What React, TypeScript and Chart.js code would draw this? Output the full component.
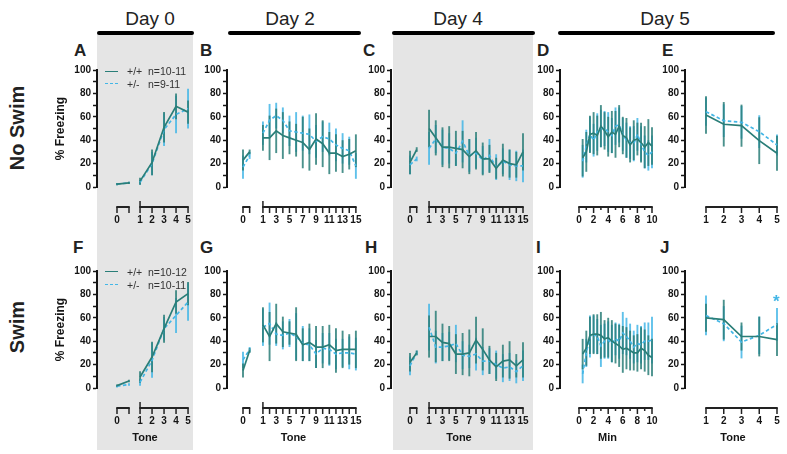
import React, { useEffect, useRef } from 'react';
import { Chart, registerables } from 'chart.js';
Chart.register(...registerables);

const FONT = '"Liberation Sans", Arial, Helvetica, sans-serif';
const WT = '#2a7e78';
const HET = '#43b6e6';
const WT_BAR = 'rgba(42,126,120,0.85)';
const HET_BAR = 'rgba(67,182,230,0.85)';
const INK = '#151515';

// ---------- x categories ----------
const tones5 = [1, 2, 3, 4, 5];
const tones15 = [1, 2, 3, 4, 5, 6, 7, 8, 9, 10, 11, 12, 13, 14, 15];
const tones15Labelled = [1, 3, 5, 7, 9, 11, 13, 15];
const minutes = [0.5, 1, 1.5, 2, 2.5, 3, 3.5, 4, 4.5, 5, 5.5, 6, 6.5, 7, 7.5, 8, 8.5, 9, 9.5, 10];
const minuteLabels = [0, 2, 4, 6, 8, 10];
const minuteTicks = [0, 1, 2, 3, 4, 5, 6, 7, 8, 9, 10];
const baselinePts = [0, 1];

// ---------- A: No Swim, Day 0 ----------
const aBaseWT = [2.5, 3.5];
const aBaseWTsem = [1, 1];
const aBaseHet = [2.5, 3.5];
const aBaseHetSem = [1, 1];
const aWT = [5, 21, 51, 69, 64];
const aWTsem = [3, 11, 13, 11, 10];
const aHet = [4, 20, 49, 62, 67];
const aHetSem = [2, 10, 14, 16, 17];

// ---------- B: No Swim, Day 2 ----------
const bBaseWT = [23, 30];
const bBaseWTsem = [9, 2];
const bBaseHet = [17, 27];
const bBaseHetSem = [10, 3];
const bWT = [42, 42, 48, 44, 42, 40, 38, 32, 41, 37, 29, 29, 26, 28, 31];
const bWTsem = [11, 19, 19, 20, 14, 14, 22, 18, 22, 20, 18, 16, 14, 13, 14];
const bHet = [46, 57, 61, 57, 48, 47, 46, 45, 39, 43, 41, 36, 33, 31, 18];
const bHetSem = [10, 14, 11, 11, 13, 17, 15, 17, 14, 13, 14, 14, 13, 12, 11];

// ---------- C: No Swim, Day 4 ----------
const cBaseWT = [21, 32];
const cBaseWTsem = [10, 2];
const cBaseHet = [19, 24];
const cBaseHetSem = [8, 2];
const cWT = [50, 42, 34, 34, 33, 32, 26, 31, 24, 24, 16, 23, 20, 19, 30];
const cWTsem = [16, 15, 17, 18, 15, 16, 15, 16, 14, 12, 9, 14, 12, 11, 16];
const cHet = [33, 41, 34, 33, 29, 39, 27, 29, 23, 27, 17, 22, 19, 18, 18];
const cHetSem = [14, 12, 15, 13, 11, 18, 14, 13, 12, 14, 11, 11, 13, 13, 14];

// ---------- D: No Swim, Day 5 (min) ----------
const dWT = [25, 30, 45, 46, 44, 52, 48, 43, 47, 45, 52, 44, 42, 36, 40, 41, 38, 34, 38, 35];
const dWTsem = [16, 17, 16, 18, 17, 18, 16, 17, 18, 20, 18, 16, 17, 15, 17, 14, 17, 18, 20, 16];
const dHet = [22, 35, 45, 40, 47, 50, 50, 47, 44, 52, 53, 45, 40, 38, 37, 45, 37, 30, 27, 30];
const dHetSem = [14, 14, 15, 14, 16, 16, 15, 17, 15, 16, 15, 14, 15, 14, 15, 14, 15, 14, 13, 14];

// ---------- E: No Swim, Day 5 (tone) ----------
const eWT = [61.5, 53.6, 52.4, 39.6, 28.8];
const eWTsem = [16, 19, 18, 20, 15];
const eHet = [64.4, 56.7, 55.3, 47.3, 35.9];
const eHetSem = [12, 14, 14, 14, 9];

// ---------- F: Swim, Day 0 ----------
const fBaseWT = [2, 6];
const fBaseWTsem = [1, 1];
const fBaseHet = [1.5, 3];
const fBaseHetSem = [1, 1];
const fWT = [9.4, 26.5, 50.7, 73.5, 80.7];
const fWTsem = [5, 13, 12, 10, 10];
const fHet = [5, 23.7, 50.7, 62, 73.5];
const fHetSem = [3, 15, 10, 15, 16];

// ---------- G: Swim, Day 2 ----------
const gBaseWT = [15, 32];
const gBaseWTsem = [6, 2];
const gBaseHet = [24, 33];
const gBaseHetSem = [7, 2];
const gWT = [54, 44, 55, 48, 47, 46, 37, 39, 35, 35, 37, 32, 33, 33, 33];
const gWTsem = [15, 21, 17, 13, 10, 23, 14, 16, 18, 18, 17, 19, 16, 13, 16];
const gHet = [52, 55, 46, 45, 47, 44, 38, 37, 29, 34, 33, 29, 30, 30, 29];
const gHetSem = [16, 18, 10, 12, 12, 20, 15, 14, 12, 13, 14, 13, 12, 14, 14];

// ---------- H: Swim, Day 4 ----------
const hBaseWT = [22, 30];
const hBaseWTsem = [8, 2];
const hBaseHet = [19, 30];
const hBaseHetSem = [8, 2];
const hWT = [44, 44, 39, 38, 29, 29, 30, 41, 33, 24, 18, 23, 24, 19, 24];
const hWTsem = [18, 22, 16, 15, 17, 18, 20, 20, 18, 12, 12, 14, 16, 10, 15];
const hHet = [52, 35, 35, 36, 38, 28, 27, 29, 23, 23, 20, 17, 18, 14, 19];
const hHetSem = [20, 14, 12, 12, 16, 12, 10, 14, 12, 11, 12, 12, 12, 10, 13];

// ---------- I: Swim, Day 5 (min) ----------
const iWT = [29, 34, 45, 46, 46, 45, 42, 43, 40, 38, 36, 33, 34, 32, 30, 30, 34, 32, 28, 26];
const iWTsem = [13, 15, 16, 17, 17, 20, 16, 17, 18, 17, 18, 20, 18, 17, 15, 16, 18, 18, 17, 16];
const iHet = [12, 30, 44, 46, 44, 36, 40, 41, 38, 42, 40, 47, 44, 40, 35, 38, 37, 40, 40, 41];
const iHetSem = [8, 12, 18, 16, 15, 18, 15, 16, 16, 14, 15, 18, 16, 15, 14, 16, 16, 16, 16, 20];

// ---------- J: Swim, Day 5 (tone) ----------
const jWT = [60, 58.4, 44, 44, 41.3];
const jWTsem = [12, 17, 12, 17, 14];
const jHet = [62, 55, 39.3, 45, 54.4];
const jHetSem = [17, 15, 14, 16, 14];

// ---------- types & builders ----------
type Series = { x: number[]; y: number[]; sem: number[]; het: boolean };
type Seg = { from: number; to: number; major: number[]; minor?: number[]; tallStart?: boolean };
type PanelCfg = {
  key: string;
  row: number;
  axisX: number;
  originPx: number;
  ppu: number;
  rightPx: number;
  yTitle?: boolean;
  xTitle?: string;
  series: Series[];
  tickPos: number[];
  tickLabels: string[];
  segs: Seg[];
};

const shift = (arr: number[], off: number) => arr.map((v) => v + off);

type DayGeo = { axisX: number; originPx: number; ppu: number; rightPx: number; off: number; many: boolean };
const GEO_D0: DayGeo = { axisX: 97, originPx: 117, ppu: 12, rightPx: 193, off: 0.92, many: false };
const GEO_D2: DayGeo = { axisX: 227, originPx: 243, ppu: 6.64, rightPx: 360, off: 2, many: true };
const GEO_D4: DayGeo = { axisX: 391, originPx: 410, ppu: 6.71, rightPx: 527, off: 1.84, many: true };

function dayPanel(
  key: string, row: number, g: DayGeo,
  baseWT: number[], baseWTsem: number[], baseHet: number[], baseHetSem: number[],
  wt: number[], wtSem: number[], het: number[], hetSem: number[],
  yTitle: boolean, xTitle?: string
): PanelCfg {
  const tones = g.many ? tones15 : tones5;
  const labelled = g.many ? tones15Labelled : tones5;
  const tx = shift(tones, g.off);
  return {
    key, row, axisX: g.axisX, originPx: g.originPx, ppu: g.ppu, rightPx: g.rightPx, yTitle, xTitle,
    series: [
      { x: baselinePts, y: baseWT, sem: baseWTsem, het: false },
      { x: tx, y: wt, sem: wtSem, het: false },
      { x: baselinePts, y: baseHet, sem: baseHetSem, het: true },
      { x: tx, y: het, sem: hetSem, het: true },
    ],
    tickPos: [0, ...shift(labelled, g.off)],
    tickLabels: ['0', ...labelled.map(String)],
    segs: [
      { from: 0, to: 1, major: [0, 1] },
      { from: tx[0], to: tx[tx.length - 1], major: tx, tallStart: true },
    ],
  };
}

function minPanel(key: string, row: number, wt: number[], wtSem: number[], het: number[], hetSem: number[], xTitle?: string): PanelCfg {
  return {
    key, row, axisX: 560, originPx: 579, ppu: 7.3, rightPx: 655, xTitle,
    series: [
      { x: minutes, y: wt, sem: wtSem, het: false },
      { x: minutes, y: het, sem: hetSem, het: true },
    ],
    tickPos: minuteLabels,
    tickLabels: minuteLabels.map(String),
    segs: [{ from: 0, to: 10, major: minuteLabels, minor: minuteTicks.filter((m) => m % 2 === 1), tallStart: false }],
  };
}

function tonePanel(key: string, row: number, wt: number[], wtSem: number[], het: number[], hetSem: number[], xTitle?: string): PanelCfg {
  return {
    key, row, axisX: 685, originPx: 688.25, ppu: 17.75, rightPx: 781, xTitle,
    series: [
      { x: tones5, y: wt, sem: wtSem, het: false },
      { x: tones5, y: het, sem: hetSem, het: true },
    ],
    tickPos: tones5,
    tickLabels: tones5.map(String),
    segs: [{ from: 1, to: 5, major: tones5 }],
  };
}

const PANELS: PanelCfg[] = [
  dayPanel('A', 0, GEO_D0, aBaseWT, aBaseWTsem, aBaseHet, aBaseHetSem, aWT, aWTsem, aHet, aHetSem, true),
  dayPanel('B', 0, GEO_D2, bBaseWT, bBaseWTsem, bBaseHet, bBaseHetSem, bWT, bWTsem, bHet, bHetSem, false),
  dayPanel('C', 0, GEO_D4, cBaseWT, cBaseWTsem, cBaseHet, cBaseHetSem, cWT, cWTsem, cHet, cHetSem, false),
  minPanel('D', 0, dWT, dWTsem, dHet, dHetSem),
  tonePanel('E', 0, eWT, eWTsem, eHet, eHetSem),
  dayPanel('F', 1, GEO_D0, fBaseWT, fBaseWTsem, fBaseHet, fBaseHetSem, fWT, fWTsem, fHet, fHetSem, true, 'Tone'),
  dayPanel('G', 1, GEO_D2, gBaseWT, gBaseWTsem, gBaseHet, gBaseHetSem, gWT, gWTsem, gHet, gHetSem, false, 'Tone'),
  dayPanel('H', 1, GEO_D4, hBaseWT, hBaseWTsem, hBaseHet, hBaseHetSem, hWT, hWTsem, hHet, hHetSem, false, 'Tone'),
  minPanel('I', 1, iWT, iWTsem, iHet, iHetSem, 'Min'),
  tonePanel('J', 1, jWT, jWTsem, jHet, jHetSem, 'Tone'),
];

function makePlugin(cfg: PanelCfg) {
  return {
    id: 'prismAxes' + cfg.key,
    beforeDatasetsDraw(chart: any) {
      const xs = chart.scales.x;
      const ys = chart.scales.y;
      const ctx = chart.ctx;
      ctx.save();
      ctx.lineCap = 'butt';
      const order = [...cfg.series.filter((s) => s.het), ...cfg.series.filter((s) => !s.het)];
      order.forEach((s) => {
        ctx.strokeStyle = s.het ? HET_BAR : WT_BAR;
        ctx.lineWidth = 1.9;
        s.x.forEach((xv, i) => {
          const px = xs.getPixelForValue(xv);
          ctx.beginPath();
          ctx.moveTo(px, ys.getPixelForValue(s.y[i] - s.sem[i]));
          ctx.lineTo(px, ys.getPixelForValue(s.y[i] + s.sem[i]));
          ctx.stroke();
        });
      });
      ctx.restore();
    },
    afterDraw(chart: any) {
      const xs = chart.scales.x;
      const ctx = chart.ctx;
      const yl = chart.chartArea.bottom + 20;
      ctx.save();
      ctx.strokeStyle = '#222';
      ctx.lineCap = 'butt';
      cfg.segs.forEach((seg) => {
        const x0 = xs.getPixelForValue(seg.from);
        const x1 = xs.getPixelForValue(seg.to);
        ctx.lineWidth = 2;
        ctx.beginPath();
        ctx.moveTo(x0 - 0.75, yl);
        ctx.lineTo(x1 + 0.75, yl);
        ctx.stroke();
        ctx.lineWidth = 1.5;
        seg.major.forEach((v) => {
          const p = xs.getPixelForValue(v);
          ctx.beginPath();
          ctx.moveTo(p, yl);
          ctx.lineTo(p, yl + 6);
          ctx.stroke();
        });
        (seg.minor || []).forEach((v) => {
          const p = xs.getPixelForValue(v);
          ctx.beginPath();
          ctx.moveTo(p, yl);
          ctx.lineTo(p, yl + 3);
          ctx.stroke();
        });
        if (seg.tallStart) {
          ctx.beginPath();
          ctx.moveTo(x0, yl - 6);
          ctx.lineTo(x0, yl);
          ctx.stroke();
        }
      });
      ctx.restore();
    },
  };
}

const Panel = ({ cfg }: { cfg: PanelCfg }) => {
  const ref = useRef<HTMLCanvasElement>(null);
  const W = cfg.yTitle ? 50 : 32;
  const PR = 6;
  const top = cfg.row === 0 ? 60 : 261;
  const xH = cfg.row === 0 ? 43 : 62;
  const h = 10 + 117 + xH;
  const w = W + (cfg.rightPx - cfg.axisX) + PR;

  useEffect(() => {
    if (!ref.current) return;
    const xmin = (cfg.axisX - cfg.originPx) / cfg.ppu;
    const xmax = (cfg.rightPx - cfg.originPx) / cfg.ppu;
    const ordered = [...cfg.series.filter((s) => !s.het), ...cfg.series.filter((s) => s.het)];
    const chart = new Chart(ref.current, {
      type: 'line',
      data: {
        datasets: ordered.map((s) => ({
          data: s.x.map((xv, i) => ({ x: xv, y: s.y[i] })),
          borderColor: s.het ? HET : WT,
          borderWidth: 1.7,
          borderDash: s.het ? [3.5, 2.5] : [],
          pointRadius: 0,
          fill: false,
          tension: 0,
        })),
      },
      options: {
        animation: false,
        responsive: false,
        devicePixelRatio: 1,
        layout: { padding: { top: 10, right: PR, left: 0, bottom: 0 } },
        plugins: { legend: { display: false }, tooltip: { enabled: false } },
        scales: {
          x: {
            type: 'linear',
            min: xmin,
            max: xmax,
            position: 'bottom',
            afterBuildTicks: (s: any) => {
              s.ticks = cfg.tickPos.map((v) => ({ value: v }));
            },
            afterFit: (s: any) => {
              s.height = xH;
            },
            ticks: {
              autoSkip: false,
              maxRotation: 0,
              minRotation: 0,
              padding: 0,
              color: INK,
              font: { family: FONT, size: 10, weight: 'bold' },
              callback: (_v: any, i: number) => cfg.tickLabels[i],
            },
            grid: {
              display: true,
              drawOnChartArea: false,
              drawTicks: true,
              tickLength: 27,
              tickColor: 'rgba(0,0,0,0)',
              color: 'rgba(0,0,0,0)',
            },
            border: { display: false },
            title: {
              display: !!cfg.xTitle,
              text: cfg.xTitle || '',
              color: INK,
              font: { family: FONT, size: 11, weight: 'bold' },
              padding: { top: 0, bottom: 5 },
            },
          },
          y: {
            type: 'linear',
            min: 0,
            max: 100,
            position: 'left',
            afterFit: (s: any) => {
              s.width = W;
            },
            ticks: {
              stepSize: 10,
              autoSkip: false,
              padding: 2,
              color: INK,
              font: { family: FONT, size: 10, weight: 'bold' },
              callback: (v: any) => (Number(v) % 20 === 0 ? String(v) : ''),
            },
            grid: { drawOnChartArea: false, drawTicks: true, tickLength: 4, tickWidth: 1.5, tickColor: INK },
            border: { display: true, color: INK, width: 2 },
            title: {
              display: !!cfg.yTitle,
              text: '% Freezing',
              color: INK,
              font: { family: FONT, size: 12, weight: 'bold' },
              padding: { top: 6, bottom: 0 },
            },
          },
        },
      },
      plugins: [makePlugin(cfg)],
    } as any);
    return () => chart.destroy();
  }, []);

  return (
    <canvas
      ref={ref}
      width={w}
      height={h}
      style={{ position: 'absolute', left: cfg.axisX - W, top, width: w, height: h }}
    />
  );
};

const HEADERS: [string, number][] = [
  ['Day 0', 150],
  ['Day 2', 290],
  ['Day 4', 458],
  ['Day 5', 665],
];
const HEADER_BARS: [number, number][] = [
  [97, 194],
  [228, 361],
  [392, 535],
  [558, 775],
];
const LETTERS: [string, number, number][] = [
  ['A', 74, 45], ['B', 200, 45], ['C', 363, 45], ['D', 537, 45], ['E', 662, 45],
  ['F', 73, 242], ['G', 200, 242], ['H', 365, 242], ['I', 536, 242], ['J', 660, 242],
];
const LEGENDS: { y1: number; y2: number; wtN: string; hetN: string }[] = [
  { y1: 71.5, y2: 84, wtN: 'n=10-11', hetN: 'n=9-11' },
  { y1: 272, y2: 285, wtN: 'n=10-12', hetN: 'n=10-11' },
];

export default function App() {
  const txt = (extra: React.CSSProperties): React.CSSProperties => ({
    position: 'absolute',
    whiteSpace: 'nowrap',
    lineHeight: 1,
    fontFamily: FONT,
    color: '#1e1e1e',
    ...extra,
  });
  return (
    <div style={{ position: 'absolute', left: 0, top: 0, width: 787, height: 454, background: '#ffffff', overflow: 'hidden' }}>
      <div style={{ position: 'absolute', left: 97, top: 33, width: 96, height: 417, background: '#e5e5e5' }} />
      <div style={{ position: 'absolute', left: 393, top: 33, width: 140, height: 417, background: '#e5e5e5' }} />
      {HEADERS.map(([t, cx]) => (
        <div key={t} style={txt({ left: cx, top: 9, fontSize: 19, transform: 'translateX(-50%)', color: '#222' })}>{t}</div>
      ))}
      {HEADER_BARS.map(([a, b]) => (
        <div key={a} style={{ position: 'absolute', left: a, top: 31, width: b - a, height: 4, background: '#000', borderRadius: 2 }} />
      ))}
      <div style={txt({ left: 17, top: 128, fontSize: 20, fontWeight: 'bold', transform: 'translate(-50%,-50%) rotate(-90deg)', color: '#222' })}>No Swim</div>
      <div style={txt({ left: 17, top: 327, fontSize: 20, fontWeight: 'bold', transform: 'translate(-50%,-50%) rotate(-90deg)', color: '#222' })}>Swim</div>
      {LETTERS.map(([l, x, y]) => (
        <div key={l} style={txt({ left: x, top: y - 3, fontSize: 17, fontWeight: 'bold', color: '#222' })}>{l}</div>
      ))}
      {PANELS.map((p) => (
        <Panel key={p.key} cfg={p} />
      ))}
      {LEGENDS.map((lg, i) => (
        <React.Fragment key={i}>
          <div style={{ position: 'absolute', left: 105, top: lg.y1 - 0.75, width: 13, height: 0, borderTop: `1.5px solid ${WT}` }} />
          <div style={{ position: 'absolute', left: 105, top: lg.y2 - 0.75, width: 13, height: 0, borderTop: `1.5px dashed ${HET}` }} />
          <div style={txt({ left: 127, top: lg.y1 - 5.5, fontSize: 10.5, color: '#333' })}>+/+</div>
          <div style={txt({ left: 148, top: lg.y1 - 5.5, fontSize: 10.5, color: '#333' })}>{lg.wtN}</div>
          <div style={txt({ left: 127, top: lg.y2 - 5.5, fontSize: 10.5, color: '#333' })}>+/-</div>
          <div style={txt({ left: 148, top: lg.y2 - 5.5, fontSize: 10.5, color: '#333' })}>{lg.hetN}</div>
        </React.Fragment>
      ))}
      <div style={txt({ left: 773, top: 293, fontSize: 17, fontWeight: 'bold', color: HET })}>*</div>
    </div>
  );
}
